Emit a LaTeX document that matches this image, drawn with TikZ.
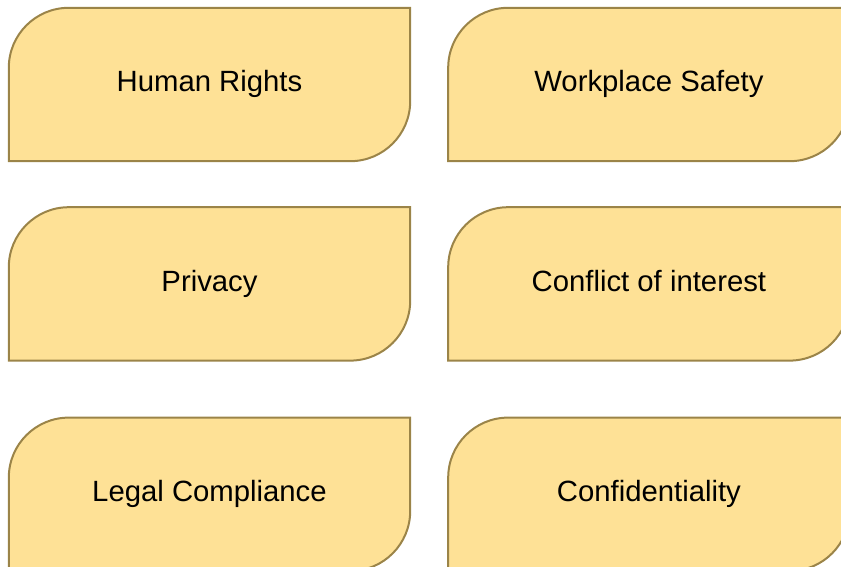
\documentclass[tikz,border=0pt]{standalone}
\usepackage{fontspec}
\setmainfont{Liberation Sans}
\usetikzlibrary{positioning,backgrounds}
\definecolor{Tag}{HTML}{FEE196}
\definecolor{TagLine}{HTML}{9B8448}

\tikzset{
  topic/.style={minimum width=401pt,minimum height=153pt,inner sep=0pt,
    text height=21pt,text depth=6pt,font=\fontsize{29.3pt}{34pt}\selectfont},
  tagline/.style={draw=TagLine,fill=Tag,line width=2pt}
}
% rounded top-left and bottom-right corners around a node
\newcommand{\tagshape}[1]{%
  \draw[tagline] (#1.south west) -- ([yshift=-60pt]#1.north west)
    arc[start angle=180,end angle=90,radius=60pt] -- (#1.north east)
    -- ([yshift=60pt]#1.south east)
    arc[start angle=0,end angle=-90,radius=60pt] -- cycle;}

\begin{document}
\begin{tikzpicture}[node distance=46pt and 38pt]
  \useasboundingbox (0pt,0pt) rectangle (841pt,-567pt);
  \node[topic] (hr) at (209.5pt,-84.5pt) {Human Rights};
  \node[topic,right=of hr] (ws) {Workplace Safety};
  \node[topic,below=of hr] (pv) {Privacy};
  \node[topic,right=of pv] (ci) {Conflict of interest};
  \node[topic,below=57pt of pv] (lc) {Legal Compliance};
  \node[topic,right=of lc] (cf) {Confidentiality};
  \begin{scope}[on background layer]
    \foreach \n in {hr,ws,pv,ci,lc,cf} {\tagshape{\n}}
  \end{scope}
\end{tikzpicture}
\end{document}
